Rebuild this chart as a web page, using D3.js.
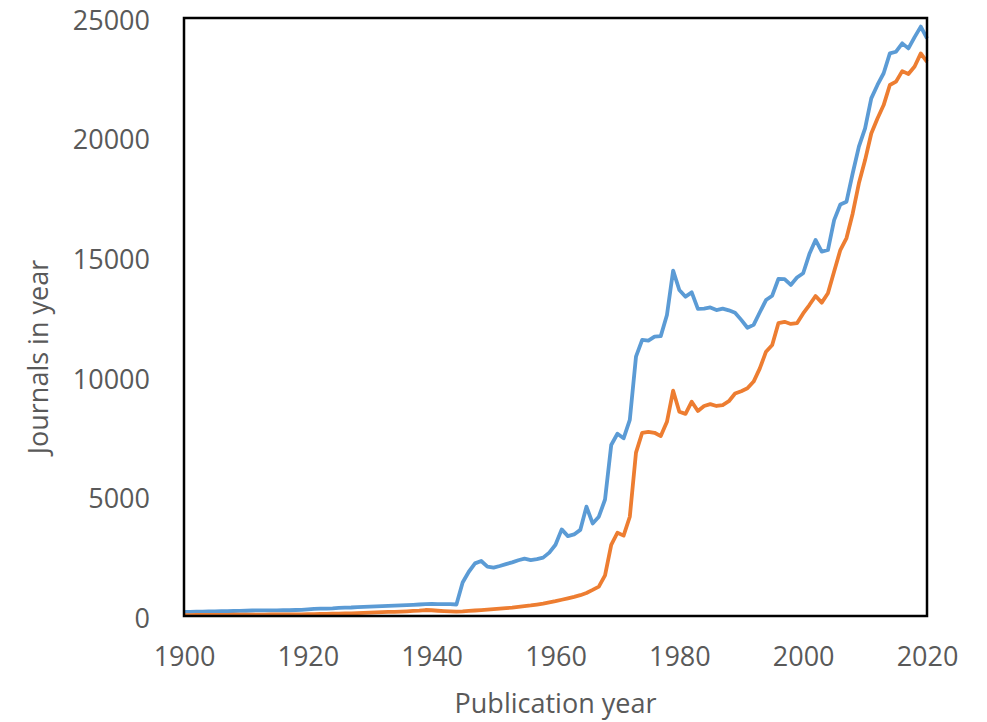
<!DOCTYPE html>
<html>
<head>
<meta charset="utf-8" />
<title>Journals in year</title>
<script src="https://d3js.org/d3.v7.min.js"></script>
<style>
  body { margin: 0; background: #fff; }
  text { font-family: "Open Sans", sans-serif; fill: #595959; }
</style>
</head>
<body>
<div id="chart"></div>
<script>
// years 1900..2020
const years = d3.range(1900, 2021);

// blue series
const allJournals = [
  170, 175, 180, 185, 190, 195, 200, 205, 210, 215,
  220, 230, 235, 235, 235, 235, 240, 240, 250, 255,
  280, 300, 305, 310, 320, 340, 350, 355, 370, 385,
  395, 405, 415, 420, 430, 440, 455, 465, 480, 500,
  510, 500, 500, 495, 480, 1400, 1850, 2200, 2300, 2060,
  2020, 2090, 2170, 2240, 2330, 2400, 2340, 2380, 2440, 2650,
  2980, 3620, 3340, 3410, 3600, 4570, 3870, 4150, 4870, 7150,
  7620, 7430, 8200, 10840, 11540, 11510, 11680, 11700, 12580, 14440,
  13630, 13350, 13530, 12840, 12850, 12900, 12790, 12850, 12780, 12680,
  12380, 12050, 12170, 12700, 13210, 13390, 14090, 14080, 13840, 14150,
  14330, 15130, 15720, 15230, 15300, 16550, 17200, 17320, 18510, 19620,
  20390, 21640, 22200, 22690, 23520, 23590, 23940, 23730, 24200, 24640,
  24150
];

// orange series
const subsetJournals = [
  40, 40, 42, 44, 45, 46, 48, 50, 52, 54,
  56, 58, 60, 60, 62, 62, 64, 65, 66, 68,
  75, 80, 85, 90, 95, 100, 105, 110, 120, 130,
  140, 150, 160, 170, 175, 185, 195, 210, 225, 250,
  240, 220, 205, 190, 180, 190, 210, 230, 250, 270,
  290, 310, 330, 350, 380, 410, 440, 480, 520, 570,
  620, 680, 740, 800, 870, 960, 1090, 1230, 1700, 2970,
  3480, 3360, 4150, 6830, 7660, 7700, 7660, 7520, 8120, 9420,
  8540, 8450, 8960, 8570, 8780, 8860, 8780, 8820, 8980, 9300,
  9400, 9520, 9800, 10350, 11050, 11330, 12240, 12300, 12210, 12240,
  12650, 13000, 13380, 13100, 13490, 14400, 15300, 15800, 16830, 18090,
  19060, 20170, 20800, 21360, 22200, 22340, 22780, 22660, 22970, 23520,
  23170
];

const xTicks = [1900, 1920, 1940, 1960, 1980, 2000, 2020];
const yTicks = [0, 5000, 10000, 15000, 20000, 25000];

const width = 987;
const height = 722;
const plot = { left: 184, right: 927, top: 18, bottom: 616 };

const svg = d3.select('#chart')
  .append('svg')
  .attr('width', width)
  .attr('height', height);

const x = d3.scaleLinear().domain([1900, 2020]).range([plot.left, plot.right]);
const y = d3.scaleLinear().domain([0, 25000]).range([plot.bottom, plot.top]);

// axes (labels only, no tick marks)
const xAxis = svg.append('g')
  .attr('transform', `translate(0,${plot.bottom})`)
  .call(d3.axisBottom(x).tickValues(xTicks).tickFormat(d3.format('d')).tickSize(0).tickPadding(31));

const yAxis = svg.append('g')
  .attr('transform', `translate(${plot.left},0)`)
  .call(d3.axisLeft(y).tickValues(yTicks).tickFormat(d3.format('d')).tickSize(0).tickPadding(34));

[xAxis, yAxis].forEach(g => {
  g.select('.domain').remove();
  g.selectAll('text')
    .style('font-size', '27px')
    .style('font-family', '"Open Sans", sans-serif')
    .attr('fill', '#595959');
});
yAxis.selectAll('text').attr('dy', '0.42em');

// lines
const line = vals => d3.line()
  .x((d, i) => x(years[i]))
  .y(d => y(d))(vals);

svg.append('path')
  .attr('d', line(allJournals))
  .attr('fill', 'none')
  .attr('stroke', '#5B9BD5')
  .attr('stroke-width', 3.8)
  .attr('stroke-linejoin', 'round');

svg.append('path')
  .attr('d', line(subsetJournals))
  .attr('fill', 'none')
  .attr('stroke', '#ED7D31')
  .attr('stroke-width', 3.8)
  .attr('stroke-linejoin', 'round');

// plot frame
svg.append('rect')
  .attr('x', plot.left)
  .attr('y', plot.top)
  .attr('width', plot.right - plot.left)
  .attr('height', plot.bottom - plot.top)
  .attr('fill', 'none')
  .attr('stroke', '#000')
  .attr('stroke-width', 2.5);

// axis titles
svg.append('text')
  .attr('x', (plot.left + plot.right) / 2)
  .attr('y', 713)
  .attr('text-anchor', 'middle')
  .style('font-size', '27px')
  .text('Publication year');

svg.append('text')
  .attr('transform', 'translate(48,357) rotate(-90)')
  .attr('text-anchor', 'middle')
  .style('font-size', '27px')
  .text('Journals in year');
</script>
</body>
</html>
